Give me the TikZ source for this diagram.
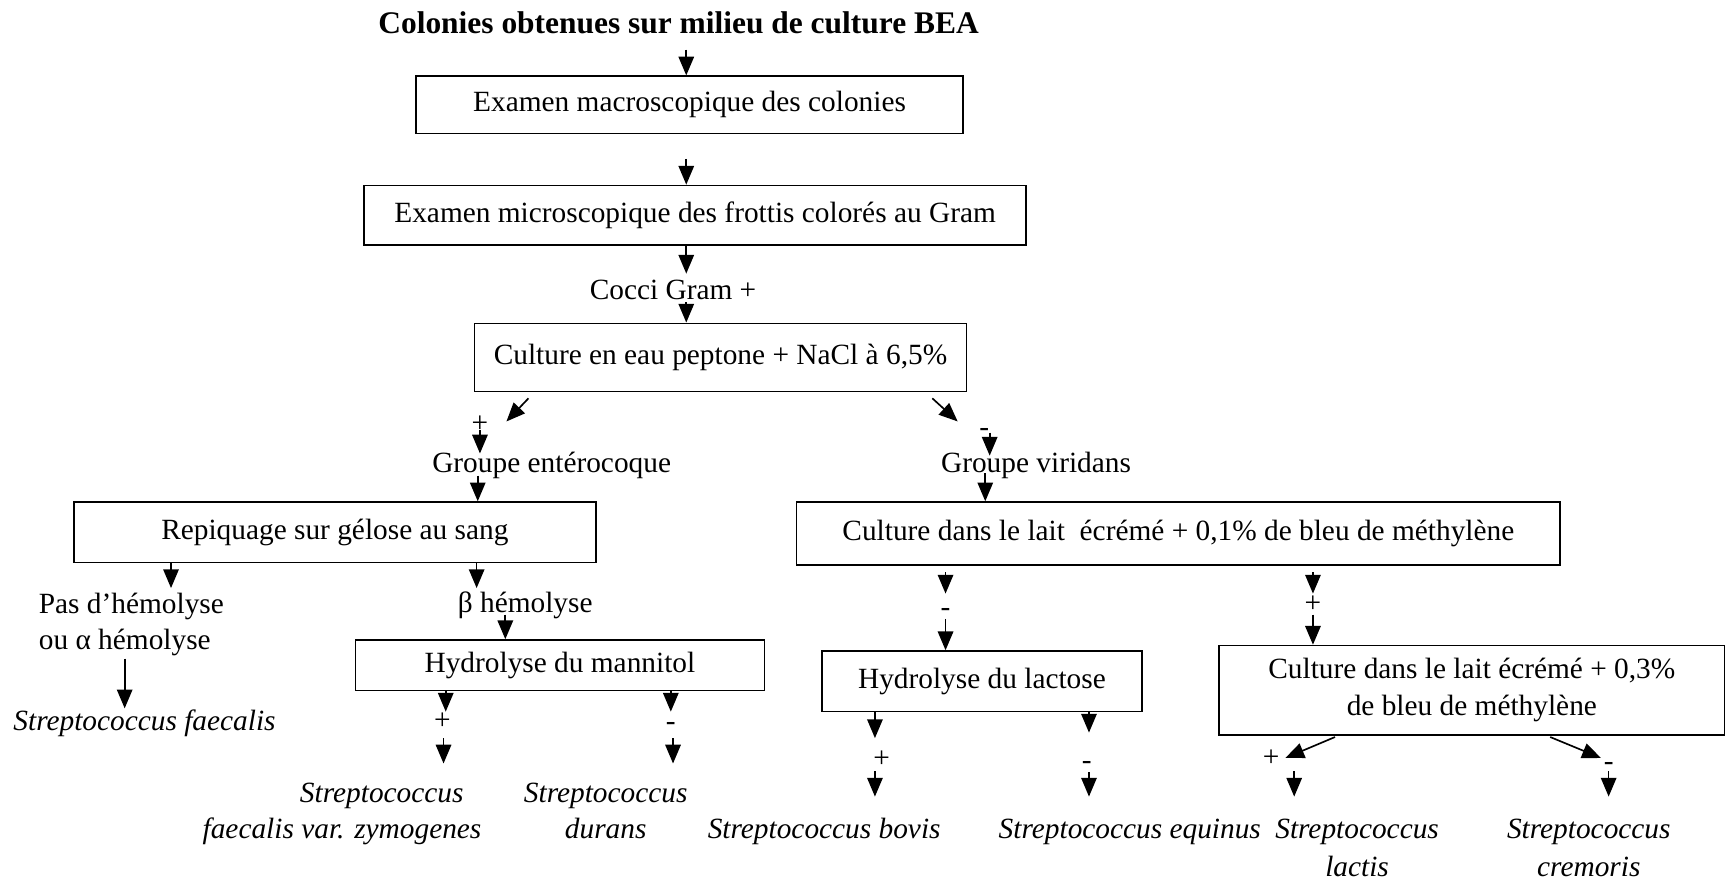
\documentclass[tikz,border=0pt]{standalone}
\usepackage{fontspec}
\setmainfont{Liberation Serif}
\usetikzlibrary{arrows.meta}
\newcommand{\myfs}{\fontsize{26.6}{33}\selectfont}
\newcommand{\mytfs}{\fontsize{28.5}{34}\selectfont\bfseries}
\begin{document}
\begin{tikzpicture}[x=1pt,y=-1pt,
  box/.style={draw,line width=1.3pt,inner sep=0pt,font=\myfs,align=center},
  lbl/.style={inner sep=0pt,font=\myfs,text height=0.68em,text depth=0pt,yshift=-5pt},
  sp/.style={lbl,font=\myfs\itshape},
  arr/.style={line width=1.5pt,-{Triangle[length=17pt,width=14pt]}},
  ln/.style={line width=1.3pt}
]
\useasboundingbox (0,0) rectangle (1568,799);
% title
\node[lbl,font=\mytfs] (title) at (615,22) {Colonies obtenues sur milieu de culture BEA};
% boxes
\node[box,minimum width=496pt,minimum height=52pt] (b1) at (625,95) {Examen macroscopique des colonies};
\node[box,minimum width=600pt,minimum height=54pt] (b2) at (630,195) {Examen microscopique des frottis colorés au Gram};
\node[box,minimum width=446pt,minimum height=62pt] (b3) at (653,324) {Culture en eau peptone + NaCl à 6,5\%};
\node[box,minimum width=473pt,minimum height=55pt] (b4) at (303.5,482.5) {Repiquage sur gélose au sang};
\node[box,minimum width=692pt,minimum height=57pt] (b5) at (1068,483.5) {Culture dans le lait\ \ écrémé + 0,1\% de bleu de méthylène};
\node[box,minimum width=371pt,minimum height=46pt] (b6) at (507.5,603) {Hydrolyse du mannitol};
\node[box,minimum width=290pt,minimum height=55pt] (b7) at (890,617.5) {Hydrolyse du lactose};
\node[box,minimum width=458pt,minimum height=81pt] (b8) at (1334,625.5) {Culture dans le lait écrémé + 0,3\%\\de bleu de méthylène};
% labels
\node[lbl] (cocci) at (610,263) {Cocci Gram +};
\node[lbl] (p1) at (435,384) {+};
\node[lbl] (m1) at (892,387) {-};
\node[lbl] (ent) at (500,420) {Groupe entérocoque};
\node[lbl] (vir) at (939,420) {Groupe viridans};
\node[lbl,anchor=west] (pas) at (35,548) {Pas d’hémolyse};
\node[lbl,anchor=west] (alpha) at (35,580) {ou α hémolyse};
\node[sp] (sfae) at (131,654) {Streptococcus faecalis};
\node[lbl] (beta) at (476,547) {β hémolyse};
\node[lbl] (p2) at (401,653) {+};
\node[lbl] (m2) at (608,654) {-};
\node[sp] (zym1) at (346,719) {Streptococcus};
\node[sp] (zym2) at (310,752) {faecalis var. zymogenes};
\node[sp] (dur1) at (549,719) {Streptococcus};
\node[sp] (dur2) at (549,752) {durans};
\node[lbl] (m3) at (857,550) {-};
\node[lbl] (p3) at (1190,547) {+};
\node[lbl] (p4) at (799,687) {+};
\node[lbl] (m4) at (985,689) {-};
\node[sp] (bov) at (747,752) {Streptococcus bovis};
\node[sp] (equ) at (1024,752) {Streptococcus equinus};
\node[lbl] (p5) at (1152,686) {+};
\node[lbl] (m5) at (1458,690) {-};
\node[sp] (lac1) at (1230,752) {Streptococcus};
\node[sp] (lac2) at (1230,786) {lactis};
\node[sp] (cre1) at (1440,752) {Streptococcus};
\node[sp] (cre2) at (1440,786) {cremoris};
% coordinates
\coordinate (c0) at (622,45);
\coordinate (c1) at (622,144);
\coordinate (c2) at (622,248);
\coordinate (c3) at (622,274);
\coordinate (dl1) at (479,361); \coordinate (dl2) at (459,382);
\coordinate (dr1) at (845,361); \coordinate (dr2) at (868,382);
\coordinate (c4a) at (435,390); \coordinate (c4b) at (435,411);
\coordinate (c5a) at (897,392); \coordinate (c5b) at (897,413);
\coordinate (c6) at (433,431);
\coordinate (c7) at (893,429);
\coordinate (c8) at (155,533);
\coordinate (c9) at (432,533);
\coordinate (c10a) at (113,597); \coordinate (c10b) at (113,642);
\coordinate (c11) at (458,557);
\coordinate (c12) at (404,645);
\coordinate (c13) at (608,645);
\coordinate (c14a) at (402,669); \coordinate (c14b) at (402,692);
\coordinate (c15a) at (610,669); \coordinate (c15b) at (610,692);
\coordinate (c16) at (857,538);
\coordinate (c17) at (857,561);
\coordinate (c18) at (1190,538);
\coordinate (c19) at (1190,557);
\coordinate (c20) at (793,669);
\coordinate (c21a) at (793,699); \coordinate (c21b) at (793,722);
\coordinate (c22) at (987,664);
\coordinate (c23a) at (987,700); \coordinate (c23b) at (987,722);
\coordinate (d3a) at (1210,668); \coordinate (d3b) at (1165,687);
\coordinate (d4a) at (1405,668); \coordinate (d4b) at (1451,687);
\coordinate (c24a) at (1173,699); \coordinate (c24b) at (1173,722);
\coordinate (c25a) at (1458,699); \coordinate (c25b) at (1458,722);
% connectors
\draw[arr] (c0) -- (c0 |- b1.north);
\draw[arr] (c1) -- (c1 |- b2.north);
\draw[arr] (c2 |- b2.south) -- (c2);
\draw[arr] (c3) -- (c3 |- b3.north);
\draw[arr] (dl1) -- (dl2);
\draw[arr] (dr1) -- (dr2);
\draw[arr] (c4a) -- (c4b);
\draw[arr] (c5a) -- (c5b);
\draw[arr] (c6) -- (c6 |- b4.north);
\draw[arr] (c7) -- (c7 |- b5.north);
\draw[arr] (c8 |- b4.south) -- (c8);
\draw[arr] (c9 |- b4.south) -- (c9);
\draw[arr] (c10a) -- (c10b);
\draw[arr] (c11) -- (c11 |- b6.north);
\draw[arr] (c12 |- b6.south) -- (c12);
\draw[arr] (c13 |- b6.south) -- (c13);
\draw[arr] (c14a) -- (c14b);
\draw[arr] (c15a) -- (c15b);
\draw[arr] (c16 |- b5.south) ++(0,6) -- (c16);
\draw[arr] (c17) -- (c17 |- b7.north);
\draw[arr] (c18 |- b5.south) ++(0,6) -- (c18);
\draw[arr] (c19) -- (c19 |- b8.north);
\draw[arr] (c20 |- b7.south) -- (c20);
\draw[arr] (c21a) -- (c21b);
\draw[arr] (c22 |- b7.south) -- (c22);
\draw[arr] (c23a) -- (c23b);
\draw[arr] (d3a) -- (d3b);
\draw[arr] (d4a) -- (d4b);
\draw[arr] (c24a) -- (c24b);
\draw[arr] (c25a) -- (c25b);
\end{tikzpicture}
\end{document}
